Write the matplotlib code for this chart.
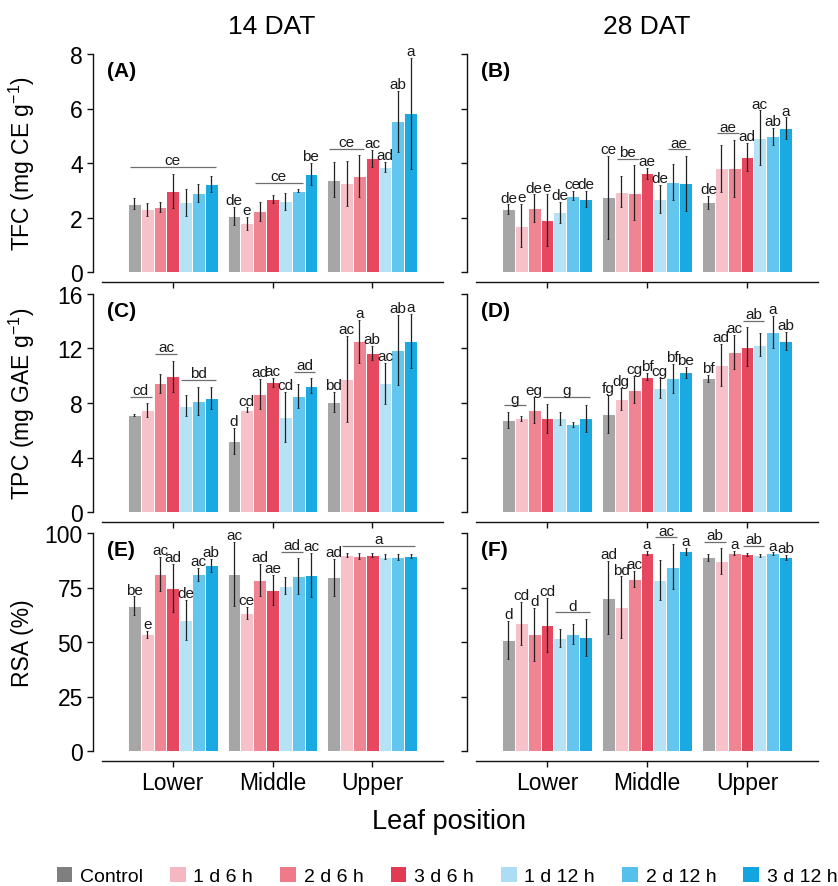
import matplotlib
matplotlib.use("Agg")
import matplotlib.pyplot as plt
from matplotlib.patches import Patch
import numpy as np

plt.rcParams['font.family'] = ['Liberation Sans', 'DejaVu Sans']
plt.rcParams['mathtext.fontset'] = 'custom'
plt.rcParams['mathtext.rm'] = 'Liberation Sans'
plt.rcParams['mathtext.it'] = 'Liberation Sans:italic'
plt.rcParams['mathtext.bf'] = 'Liberation Sans:bold'

# ---------------- data ----------------
positions = ["Lower", "Middle", "Upper"]
treatments = ["Control", "1 d 6 h", "2 d 6 h", "3 d 6 h", "1 d 12 h", "2 d 12 h", "3 d 12 h"]
bar_colors = ["#A6A6A6", "#F7C1CA", "#EF8492", "#E64860", "#B6E2F6", "#63C6EE", "#1BA9E1"]
legend_colors = ["#7F7F7F", "#F5B8C2", "#EE7A8A", "#E23A55", "#ACDDF4", "#55C0EC", "#12A5DF"]
stage_titles = ["14 DAT", "28 DAT"]

tfc14_mean = [[2.50, 2.31, 2.40, 2.98, 2.56, 2.89, 3.23],
              [2.07, 1.79, 2.23, 2.68, 2.59, 2.98, 3.61],
              [3.38, 3.25, 3.52, 4.17, 3.86, 5.53, 5.82]]
tfc14_sd = [[0.20, 0.24, 0.18, 0.63, 0.50, 0.33, 0.30],
            [0.33, 0.24, 0.35, 0.14, 0.30, 0.05, 0.40],
            [0.64, 0.83, 0.77, 0.32, 0.18, 1.11, 2.04]]
tfc14_letters = [(0, 0, 6, "ce"), (1, 0, 0, "de"), (1, 1, 1, "e"), (1, 2, 5, "ce"),
                 (1, 6, 6, "be"), (2, 0, 2, "ce"), (2, 3, 3, "ac"), (2, 4, 4, "ad"),
                 (2, 5, 5, "ab"), (2, 6, 6, "a")]

tfc28_mean = [[2.31, 1.70, 2.35, 1.91, 2.19, 2.80, 2.68],
              [2.74, 2.95, 2.90, 3.63, 2.68, 3.31, 3.25],
              [2.56, 3.80, 3.80, 4.21, 4.92, 4.98, 5.28]]
tfc28_sd = [[0.17, 0.80, 0.50, 0.95, 0.39, 0.17, 0.31],
            [1.52, 0.56, 1.01, 0.20, 0.51, 0.67, 1.01],
            [0.23, 0.87, 1.05, 0.52, 1.01, 0.32, 0.39]]
tfc28_letters = [(0, 0, 0, "de"), (0, 1, 1, "e"), (0, 2, 2, "de"), (0, 3, 3, "e"),
                 (0, 4, 4, "de"), (0, 5, 5, "ce"), (0, 6, 6, "de"),
                 (1, 0, 0, "ce"), (1, 1, 2, "be"), (1, 3, 3, "ae"), (1, 4, 4, "de"),
                 (1, 5, 6, "ae"), (2, 0, 0, "de"), (2, 1, 2, "ae"), (2, 3, 3, "ad"),
                 (2, 4, 4, "ac"), (2, 5, 5, "ab"), (2, 6, 6, "a")]

tpc14_mean = [[7.12, 7.49, 9.44, 9.96, 7.80, 8.17, 8.37],
              [5.23, 7.49, 8.66, 9.52, 6.99, 8.49, 9.27],
              [8.10, 9.76, 12.53, 11.67, 9.44, 11.89, 12.57]]
tpc14_sd = [[0.10, 0.49, 0.71, 1.15, 0.78, 1.02, 0.83],
            [0.97, 0.18, 1.09, 0.35, 1.83, 0.89, 0.53],
            [0.73, 3.18, 1.59, 0.50, 1.48, 2.57, 1.98]]
tpc14_letters = [(0, 0, 1, "cd"), (0, 2, 3, "ac"), (0, 4, 6, "bd"),
                 (1, 0, 0, "d"), (1, 1, 1, "cd"), (1, 2, 2, "ad"), (1, 3, 3, "ac"),
                 (1, 4, 4, "cd"), (1, 5, 6, "ad"),
                 (2, 0, 0, "bd"), (2, 1, 1, "ac"), (2, 2, 2, "a"), (2, 3, 3, "ab"),
                 (2, 4, 4, "ac"), (2, 5, 5, "ab"), (2, 6, 6, "a")]

tpc28_mean = [[6.75, 6.87, 7.49, 6.87, 6.87, 6.43, 6.87],
              [7.19, 8.29, 8.98, 9.93, 9.10, 9.83, 10.25],
              [9.81, 10.79, 11.72, 12.13, 12.28, 13.23, 12.53]]
tpc28_sd = [[0.60, 0.17, 0.95, 1.09, 0.50, 0.21, 1.01],
            [1.41, 0.80, 1.00, 0.27, 0.73, 1.06, 0.40],
            [0.26, 1.55, 1.26, 1.43, 0.86, 1.16, 0.67]]
tpc28_letters = [(0, 0, 1, "g"), (0, 2, 2, "eg"), (0, 3, 6, "g"),
                 (1, 0, 0, "fg"), (1, 1, 1, "dg"), (1, 2, 2, "cg"), (1, 3, 3, "bf"),
                 (1, 4, 4, "cg"), (1, 5, 5, "bf"), (1, 6, 6, "be"),
                 (2, 0, 0, "bf"), (2, 1, 1, "ad"), (2, 2, 2, "ac"), (2, 3, 4, "ab"),
                 (2, 5, 5, "a"), (2, 6, 6, "ab")]

rsa14_mean = [[66.7, 53.5, 81.1, 74.7, 60.1, 81.1, 85.1],
              [81.1, 63.4, 78.5, 73.9, 75.7, 80.3, 80.8],
              [79.7, 90.0, 89.5, 90.0, 89.2, 89.0, 89.4]]
rsa14_sd = [[4.2, 1.6, 7.8, 11.1, 9.2, 2.9, 2.9],
            [14.7, 2.8, 7.4, 6.8, 3.9, 8.2, 10.0],
            [8.4, 0.8, 1.2, 1.0, 1.2, 1.3, 1.0]]
rsa14_letters = [(0, 0, 0, "be"), (0, 1, 1, "e"), (0, 2, 2, "ac"), (0, 3, 3, "ad"),
                 (0, 4, 4, "de"), (0, 5, 5, "ac"), (0, 6, 6, "ab"),
                 (1, 0, 0, "ac"), (1, 1, 1, "ce"), (1, 2, 2, "ad"), (1, 3, 3, "ae"),
                 (1, 4, 5, "ad"), (1, 6, 6, "ac"), (2, 0, 0, "ad"), (2, 1, 6, "a")]

rsa28_mean = [[50.8, 58.5, 53.5, 57.8, 51.9, 53.5, 52.2],
              [70.4, 65.9, 78.9, 90.8, 78.5, 84.6, 91.6],
              [88.8, 87.2, 90.8, 90.2, 89.7, 90.6, 88.8]]
rsa28_sd = [[8.8, 9.8, 12.1, 12.4, 4.1, 4.6, 8.4],
            [16.7, 14.2, 3.8, 1.0, 9.1, 10.4, 1.7],
            [1.5, 5.8, 1.0, 0.8, 0.5, 0.5, 1.3]]
rsa28_letters = [(0, 0, 0, "d"), (0, 1, 1, "cd"), (0, 2, 2, "d"), (0, 3, 3, "cd"),
                 (0, 4, 6, "d"), (1, 0, 0, "ad"), (1, 1, 1, "bd"), (1, 2, 2, "ac"),
                 (1, 3, 3, "a"), (1, 4, 5, "ac"), (1, 6, 6, "a"),
                 (2, 0, 1, "ab"), (2, 2, 2, "a"), (2, 3, 4, "ab"), (2, 5, 5, "a"),
                 (2, 6, 6, "ab")]

row_ylabels = ["TFC (mg CE g$^{-1}$)", "TPC (mg GAE g$^{-1}$)", "RSA (%)"]
row_ymax = [8, 16, 100]
row_yticks = [[0, 2, 4, 6, 8], [0, 4, 8, 12, 16], [0, 25, 50, 75, 100]]
panel_tags = [["(A)", "(B)"], ["(C)", "(D)"], ["(E)", "(F)"]]
panels = [[(tfc14_mean, tfc14_sd, tfc14_letters), (tfc28_mean, tfc28_sd, tfc28_letters)],
          [(tpc14_mean, tpc14_sd, tpc14_letters), (tpc28_mean, tpc28_sd, tpc28_letters)],
          [(rsa14_mean, rsa14_sd, rsa14_letters), (rsa28_mean, rsa28_sd, rsa28_letters)]]

# ---------------- figure ----------------
W, H = 838, 887
fig = plt.figure(figsize=(W / 100, H / 100), dpi=100)

col_left = [102 / W, 476 / W]
col_width = [341 / W, 342 / W]
row_bottom = [(H - 273) / H, (H - 513) / H, (H - 752) / H]
row_height = 218 / H

ntr = len(treatments)
dodge = 0.9
bw = dodge / ntr
offsets = (np.arange(ntr) - (ntr - 1) / 2) * bw
xpos = np.arange(1, len(positions) + 1)

tick_fs = 16.5
for r in range(3):
    for c in range(2):
        ax = fig.add_axes([col_left[c], row_bottom[r], col_width[c], row_height])
        mean, sd, letters = panels[r][c]
        mean = np.array(mean)
        sd = np.array(sd)
        ymax = row_ymax[r]
        for j in range(ntr):
            xs = xpos + offsets[j]
            ax.bar(xs, mean[:, j], width=bw, color=bar_colors[j],
                   edgecolor="white", linewidth=0.7, zorder=2)
            ax.errorbar(xs, mean[:, j], yerr=sd[:, j], fmt="none", ecolor="#222222",
                        elinewidth=0.9, capsize=1.0, capthick=0.6, zorder=3,
                        clip_on=False)
        tops = mean + sd
        for (p, a, b, lab) in letters:
            if a == b:
                x = xpos[p] + offsets[a]
                y = tops[p, a]
            else:
                y = tops[p, a:b + 1].max() + 0.03 * ymax
                x0 = xpos[p] + offsets[a] - 0.35 * bw
                x1 = xpos[p] + offsets[b] + 0.35 * bw
                ax.plot([x0, x1], [y, y], color="#6E6E6E", lw=0.9, zorder=3,
                        clip_on=False, solid_capstyle="butt")
                x = (x0 + x1) / 2
            ax.annotate(lab, (x, y), xytext=(0, 2.0), textcoords="offset points",
                        ha="center", va="baseline", fontsize=11, color="#1a1a1a",
                        annotation_clip=False)
        ax.set_xlim(0.29, 3.71)
        ax.set_ylim(0, ymax)
        ax.set_yticks(row_yticks[r])
        ax.set_xticks(xpos)
        for s in ["top", "right"]:
            ax.spines[s].set_visible(False)
        ax.spines["left"].set_position(("outward", 6.8))
        ax.spines["bottom"].set_position(("outward", 7.2))
        for s in ["left", "bottom"]:
            ax.spines[s].set_linewidth(1.0)
            ax.spines[s].set_color("#111111")
        ax.tick_params(axis="both", length=4, width=1.0, color="#111111",
                       labelsize=tick_fs, pad=3)
        if c == 0:
            ax.set_yticklabels([str(t) for t in row_yticks[r]])
        else:
            ax.set_yticklabels([])
        if r == 2:
            ax.set_xticklabels(positions)
        else:
            ax.set_xticklabels([])
        ax.text(0.015, 0.968, panel_tags[r][c], transform=ax.transAxes,
                fontsize=15, fontweight="bold", ha="left", va="top")

# stage titles
title_x = [272 / W, 647 / W]
for c in range(2):
    fig.text(title_x[c], 1 - 27 / H, stage_titles[c], ha="center", va="center",
             fontsize=19)

# y labels
row_centers = [(55 + 273) / 2, (295 + 513) / 2, (535 + 752) / 2]
for r in range(3):
    fig.text(22 / W, 1 - row_centers[r] / H, row_ylabels[r], rotation=90,
             ha="center", va="center", fontsize=16.5)

fig.text(449 / W, 1 - 822 / H, "Leaf position", ha="center", va="center", fontsize=19.5)

handles = [Patch(facecolor=legend_colors[j], edgecolor="none", label=treatments[j])
           for j in range(ntr)]
fig.legend(handles=handles, loc="center", bbox_to_anchor=(447 / W, 1 - 877 / H),
           ncol=ntr, frameon=False, fontsize=14, handlelength=0.8, handleheight=0.8,
           handletextpad=0.4, columnspacing=1.4, borderaxespad=0)

fig.savefig("out.png", dpi=100)
